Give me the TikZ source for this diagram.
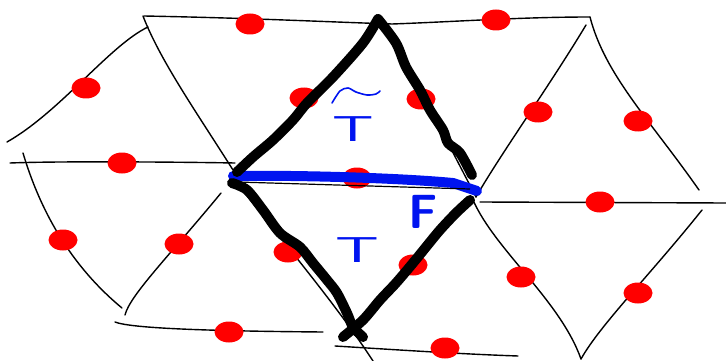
\documentclass[tikz,border=0pt]{standalone}
\usepackage{fontspec}
\usetikzlibrary{shapes.geometric}
\definecolor{penblue}{RGB}{0,20,240}
\tikzset{
  mesh/.style={line width=1.4pt, black, line cap=round},
  thickedge/.style={line width=10pt, black, line cap=round, line join=round},
  faceedge/.style={line width=10pt, penblue, line cap=round},
  dot/.style={ellipse, fill=red, draw=none, inner sep=0pt, minimum width=29pt, minimum height=21pt},
  lbl/.style={penblue, inner sep=0pt},
  tildestroke/.style={penblue, line width=1.6pt, line cap=round}
}
\begin{document}
\begin{tikzpicture}[x=1pt,y=-1pt]
\useasboundingbox (0,0) rectangle (726,361);
% vertices
\coordinate (L) at (233,176);
\coordinate (Top) at (378,19);
\coordinate (R) at (477,191);
\coordinate (B) at (350,333);
% thin mesh lines (left)
\coordinate (a1) at (144,16); \coordinate (a2) at (590,17);
\draw[mesh] (a1) .. controls (250,18) and (330,22) .. (392,24) .. controls (450,22) and (520,17) .. (a2);
\coordinate (b1) at (7,142); \coordinate (b2) at (148,27);
\draw[mesh] (b1) .. controls (60,112) and (110,45) .. (b2);
\coordinate (c1) at (143,16); \coordinate (c2) at (233,170);
\draw[mesh] (c1) .. controls (160,60) and (195,110) .. (c2);
\coordinate (d1) at (10,163); \coordinate (d2) at (235,163);
\draw[mesh] (d1) .. controls (60,161) and (180,162) .. (d2);
\coordinate (e1) at (23,153); \coordinate (e2) at (122,308);
\draw[mesh] (e1) .. controls (40,210) and (70,265) .. (e2);
\coordinate (f1) at (125,315); \coordinate (f2) at (221,193);
\draw[mesh] (f1) .. controls (130,295) and (170,255) .. (f2);
\coordinate (g1) at (115,322); \coordinate (g2) at (323,332);
\draw[mesh] (g1) .. controls (130,328) and (200,331) .. (g2);
\coordinate (h1) at (240,187); \coordinate (h2) at (373,361);
\draw[mesh] (h1) .. controls (290,250) and (340,310) .. (h2);
\coordinate (i1) at (335,346); \coordinate (i2) at (518,356);
\draw[mesh] (i1) .. controls (400,350) and (460,354) .. (i2);
% thin mesh lines (right)
\coordinate (j1) at (476,197); \coordinate (j2) at (586,25);
\draw[mesh] (j1) .. controls (500,155) and (550,85) .. (j2);
\coordinate (k1) at (590,17); \coordinate (k2) at (699,190);
\draw[mesh] (k1) .. controls (605,75) and (650,120) .. (k2);
\coordinate (l1) at (480,202); \coordinate (l2) at (726,203);
\draw[mesh] (l1) -- (l2);
\coordinate (m1) at (473,200); \coordinate (m2) at (581,359);
\draw[mesh] (m1) .. controls (495,250) and (560,300) .. (m2);
\coordinate (n2) at (702,210);
\draw[mesh] (m2) .. controls (600,325) and (650,275) .. (n2);
\coordinate (o1) at (448,143);
\draw[mesh] (o1) -- (j1);
% red dots
\foreach \p [count=\i] in {(250,24),(86,88),(122,163),(63,240),(179,244),(229,332),(304,98),(288,252),(357,178),(421,99),(413,265),(496,20),(538,112),(638,121),(600,202),(521,277),(638,293),(445,348)}
  \node[dot] (dot\i) at \p {};
% face edge F
\draw[faceedge] (L) .. controls (300,175) and (400,178) .. (453,183) -- (R);
\draw[line width=1.2pt, black] (237,182) -- (470,189);
% thick rhombus edges
\draw[thickedge] plot[smooth] coordinates {(237,172) (253,157) (273,140) (293,120) (307,103) (333,77) (363,43) (Top)};
\draw[thickedge] plot[smooth] coordinates {(Top) (396,43) (406,67) (420,90) (430,110) (443,130) (448,143) (460,153) (472,175)};
\draw[thickedge] plot[smooth] coordinates {(232,183) (247,190) (263,210) (280,233) (300,247) (313,263) (327,280) (337,293) (347,313) (353,327) (363,337)};
\draw[thickedge] plot[smooth] coordinates {(470,200) (456,213) (440,230) (426,247) (413,263) (396,283) (380,300) (363,320) (343,337)};
% labels
\node[lbl] (Tt) at (353,129) {\fontsize{36}{36}\selectfont\sffamily\scalebox{1.8}[1]{T}};
\draw[tildestroke] plot[smooth] coordinates {(332,103) (340,91) (348,88) (356,92) (367,95) (376,94) (380,91)};
\node[lbl] (T) at (357,250) {\fontsize{36}{36}\selectfont\sffamily\scalebox{1.9}[1]{T}};
\node[lbl] (F) at (423,212) {\fontsize{48}{48}\selectfont\sffamily\bfseries F};
\end{tikzpicture}
\end{document}
